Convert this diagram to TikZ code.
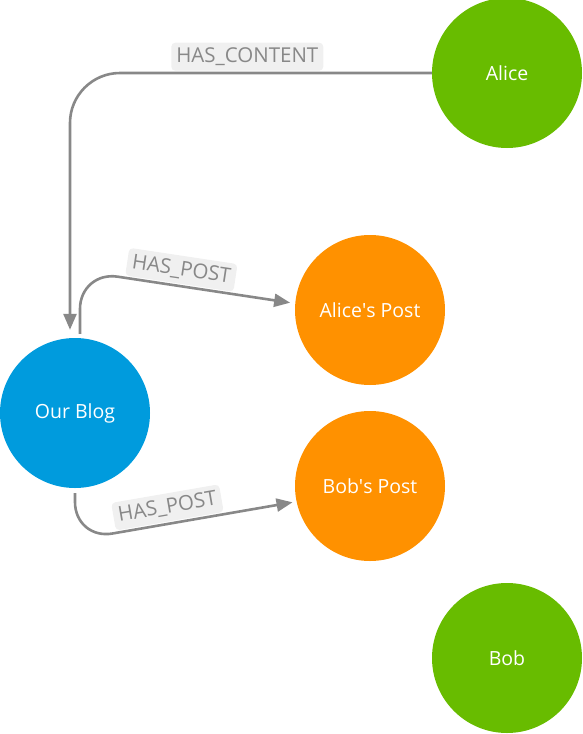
\documentclass[tikz,border=0pt]{standalone}
\usepackage{fontspec}
\setmainfont{Open Sans}
\usepackage{tikz}
\usetikzlibrary{arrows.meta}

\definecolor{blogblue}{HTML}{009BDD}
\definecolor{postorange}{HTML}{FF9100}
\definecolor{persongreen}{HTML}{68BC00}
\definecolor{edgegray}{HTML}{888888}
\definecolor{labelfill}{HTML}{F0F0F0}

\tikzset{
    entity/.style={circle, minimum size=150pt, inner sep=0pt, text=white,
        font=\fontsize{19.5}{22}\selectfont},
    rel/.style={draw=edgegray, line width=2.6pt, rounded corners=38pt,
        -{Triangle[length=16pt, width=13pt]}},
    reltag/.style={fill=labelfill, rounded corners=4pt, text=edgegray,
        inner xsep=5pt, inner ysep=5pt, font=\fontsize{20.5}{22}\selectfont}
}

\begin{document}
\begin{tikzpicture}[x=1pt, y=-1pt]
        \useasboundingbox (0,0) rectangle (583,734);

        % the nodes
        \node[entity, fill=persongreen] (alice) at (507,73) {Alice};
        \node[entity, fill=postorange] (alicepost) at (370,310) {Alice\textquotesingle s Post};
        \node[entity, fill=blogblue] (blog) at (75,413) {Our Blog};
        \node[entity, fill=postorange] (bobpost) at (370,486) {Bob\textquotesingle s Post};
        \node[entity, fill=persongreen] (bob) at (507,658) {Bob};

        % the relationships
        \draw[rel, rounded corners=50pt, shorten >=8pt] (alice.west)
            -- node[reltag, above=1pt, pos=.51] {HAS\_CONTENT} (70,73)
            -- ([xshift=-5pt]blog.north);
        \draw[rel, shorten >=5pt] ([xshift=5pt, yshift=4pt]blog.north) -- (80,271)
            -- node[reltag, sloped, above=1pt, pos=.46] {HAS\_POST} (alicepost.175);
        \draw[rel, shorten >=4pt] ([yshift=-5pt]blog.south) -- (75,540)
            -- node[reltag, sloped, above=1pt, pos=.43] {HAS\_POST} (bobpost.192);
    \end{tikzpicture}
\end{document}
